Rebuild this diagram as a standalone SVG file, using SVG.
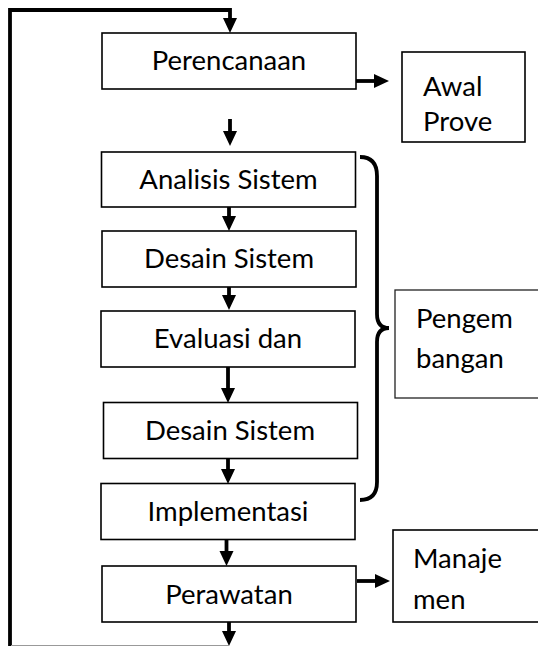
<svg xmlns="http://www.w3.org/2000/svg" width="538" height="646" viewBox="0 0 538 646">
<style>
.box{fill:#fff;stroke:#000;stroke-width:1.6}
.side{fill:#fff;stroke:#222;stroke-width:1.3}
.t{font-family:Lato,"Liberation Sans",sans-serif;font-size:27.5px;fill:#000}
.c{text-anchor:middle}
.ln{fill:none;stroke:#000;stroke-width:3.8}
.hd{fill:#000}
</style>
<rect width="538" height="646" fill="#fff"/>
<g id="connectors">
  <polyline class="ln" points="10,646 10,10 230,10 230,20"/>
  <polygon class="hd" points="223,18 237,18 230,33"/>
  <line class="ln" x1="230" y1="119" x2="230" y2="132"/>
  <polygon class="hd" points="223,131 237,131 230,146"/>
  <line class="ln" x1="229" y1="207" x2="229" y2="217"/>
  <polygon class="hd" points="222,216 236,216 229,231"/>
  <line class="ln" x1="229" y1="287" x2="229" y2="296"/>
  <polygon class="hd" points="222,295 236,295 229,310"/>
  <line class="ln" x1="228" y1="367" x2="228" y2="389"/>
  <polygon class="hd" points="221,388 235,388 228,403"/>
  <line class="ln" x1="228" y1="459" x2="228" y2="470"/>
  <polygon class="hd" points="221,469 235,469 228,484"/>
  <line class="ln" x1="226.5" y1="540" x2="226.5" y2="552"/>
  <polygon class="hd" points="219.5,551 233.5,551 226.5,566"/>
  <line class="ln" x1="229" y1="622" x2="229" y2="632"/>
  <polygon class="hd" points="222,631 236,631 229,646"/>
  <line x1="11" y1="645.5" x2="229" y2="645.5" stroke="#999" stroke-width="1"/>
  <line class="ln" x1="356" y1="81" x2="375" y2="81"/>
  <polygon class="hd" points="374,74 374,88 389,81"/>
  <line class="ln" x1="357" y1="581" x2="376" y2="581"/>
  <polygon class="hd" points="375,574 375,588 390,581"/>
  <path class="ln" stroke-width="3" d="M360,157 Q377,157 377,176 L377,314 Q377,328 389,328 Q377,328 377,342 L377,482 Q377,500 360,500"/>
</g>
<g id="perencanaan">
  <rect class="box" x="102" y="33" width="254" height="56"/>
  <text class="t c" x="229" y="70">Perencanaan</text>
</g>
<g id="awal-prove">
  <rect class="box" x="402" y="52" width="123" height="90"/>
  <text class="t" x="423" y="96">Awal</text>
  <text class="t" x="423" y="131">Prove</text>
</g>
<g id="analisis-sistem">
  <rect class="box" x="101.5" y="152" width="254" height="55"/>
  <text class="t c" x="228.5" y="189">Analisis Sistem</text>
</g>
<g id="desain-sistem-1">
  <rect class="box" x="102" y="231" width="254" height="56"/>
  <text class="t c" x="229" y="268">Desain Sistem</text>
</g>
<g id="evaluasi-dan">
  <rect class="box" x="101" y="311" width="254" height="56"/>
  <text class="t c" x="228" y="348">Evaluasi dan</text>
</g>
<g id="desain-sistem-2">
  <rect class="box" x="103.5" y="402.5" width="254" height="56"/>
  <text class="t c" x="230" y="440">Desain Sistem</text>
</g>
<g id="implementasi">
  <rect class="box" x="101" y="483.5" width="254" height="56"/>
  <text class="t c" x="228" y="521">Implementasi</text>
</g>
<g id="perawatan">
  <rect class="box" x="102" y="566" width="254" height="56"/>
  <text class="t c" x="229" y="604">Perawatan</text>
</g>
<g id="pengembangan">
  <rect class="side" x="395" y="290" width="150" height="108"/>
  <text class="t" x="416" y="328">Pengem</text>
  <text class="t" x="416" y="368">bangan</text>
</g>
<g id="manajemen">
  <rect class="box" x="393" y="530" width="150" height="92"/>
  <text class="t" x="413" y="568">Manaje</text>
  <text class="t" x="413" y="609">men</text>
</g>
</svg>
